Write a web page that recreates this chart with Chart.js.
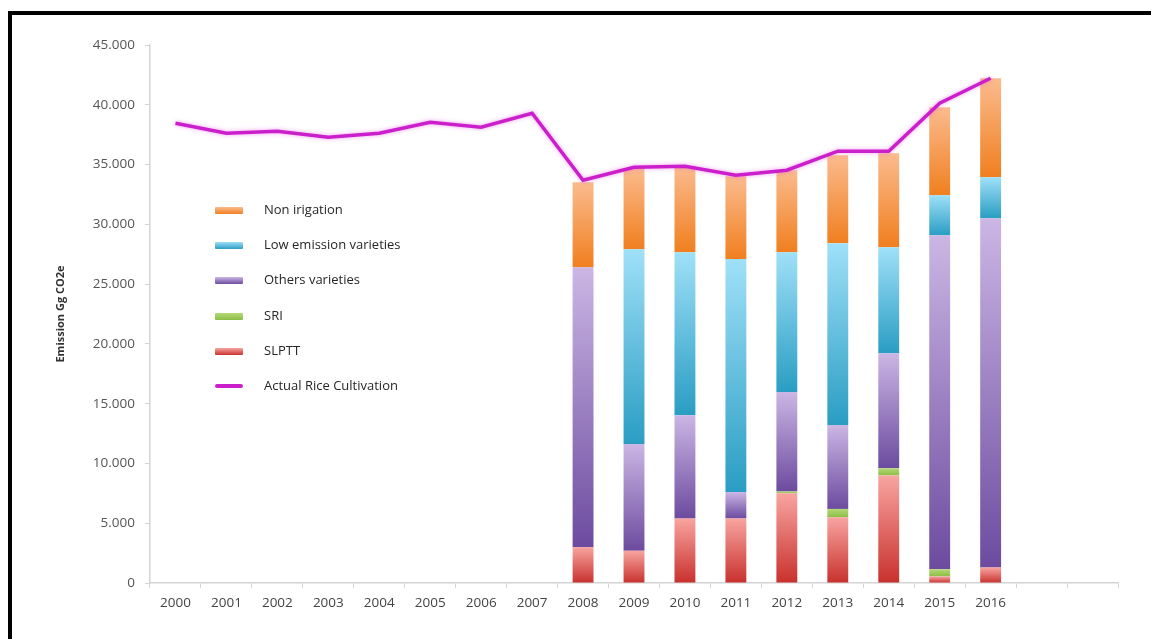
<!DOCTYPE html>
<html>
<head>
<meta charset="utf-8">
<script src="https://cdn.jsdelivr.net/npm/chart.js@4.4.1/dist/chart.umd.min.js"></script>
<style>
  html, body { margin: 0; padding: 0; background: #fff; }
  #wrap { position: relative; width: 1151px; height: 639px; overflow: hidden; font-family: "Open Sans", sans-serif; }
  #c { position: absolute; left: 0; top: 0; }
  #frame { position: absolute; left: 8px; top: 11px; right: -10px; bottom: -10px; border-top: 4px solid #000; border-left: 4px solid #000; pointer-events: none; }
  #legend { position: absolute; left: 215px; top: 192px; }
  .row { position: relative; height: 35.2px; }
  .sw { position: absolute; left: 0; top: 15px; width: 28px; height: 7px; border-radius: 1px; }
  .sw.line { height: 4px; top: 16px; border-radius: 2px; }
  .lab { position: absolute; left: 49px; top: 8px; font-size: 13px; color: #262626; white-space: nowrap; }
</style>
</head>
<body>
<div id="wrap">
  <canvas id="c" width="1151" height="639"></canvas>
  <div id="legend"></div>
  <div id="frame"></div>
</div>
<script>
// ---- data ----
const years = ['2000','2001','2002','2003','2004','2005','2006','2007','2008','2009','2010','2011','2012','2013','2014','2015','2016','',''];
const actualRice = [38460, 37620, 37790, 37290, 37620, 38540, 38120, 39290, 33690, 34780, 34860, 34110, 34530, 36120, 36120, 40130, 42220, null, null];
const slptt      = [null,null,null,null,null,null,null,null, 3000, 2700, 5400, 5400, 7500, 5500, 9000,   550, 1300, null, null];
const sri        = [null,null,null,null,null,null,null,null,    0,    0,    0,    0,  150,  700,  600,   600,    0, null, null];
const others     = [null,null,null,null,null,null,null,null,23420, 8920, 8640, 2210, 8320, 7010, 9620, 27940,29210, null, null];
const lowEmission= [null,null,null,null,null,null,null,null,    0,16300,13630,19480,11700,15210, 8860,  3350, 3430, null, null];
const nonIrig    = [null,null,null,null,null,null,null,null, 7100, 6770, 7190, 6930, 6860, 7360, 7860,  7350, 8280, null, null];
const yTicks = [0, 5000, 10000, 15000, 20000, 25000, 30000, 35000, 40000, 45000];

// ---- styles ----
const palette = {
  slptt:  ['#f8a4a0', '#c8312d'],
  sri:    ['#b4d977', '#8dbd45'],
  others: ['#cbb6e4', '#6c4b9f'],
  low:    ['#9fe0f8', '#2a9dc3'],
  non:    ['#fbbb8e', '#f07f1f']
};
const lineColor = '#cc1fcc';

function fmt(v) {
  return String(v).replace(/\B(?=(\d{3})+(?!\d))/g, '.');
}

function gradFill(colors) {
  return function (ctx) {
    if (ctx.type !== 'data') return colors[1];
    const chart = ctx.chart;
    const ys = chart.scales && chart.scales.y;
    if (!ys || !chart.chartArea) return colors[1];
    const di = ctx.datasetIndex, i = ctx.dataIndex;
    let base = 0;
    for (let d = 0; d < di; d++) {
      const ds = chart.data.datasets[d];
      if (ds.type === 'bar') base += ds.data[i] || 0;
    }
    const v = chart.data.datasets[di].data[i] || 0;
    const yTop = ys.getPixelForValue(base + v);
    const yBot = ys.getPixelForValue(base);
    if (!(yBot - yTop > 0.5)) return colors[1];
    const g = chart.ctx.createLinearGradient(0, yTop, 0, yBot);
    g.addColorStop(0, colors[0]);
    g.addColorStop(1, colors[1]);
    return g;
  };
}

function barDs(label, data, colors) {
  return {
    type: 'bar', label: label, data: data, stack: 'bars', order: 1,
    backgroundColor: gradFill(colors), borderWidth: 0,
    categoryPercentage: 1.0, barPercentage: 0.41,
    _colors: colors
  };
}

const datasets = [
  barDs('SLPTT', slptt, palette.slptt),
  barDs('SRI', sri, palette.sri),
  barDs('Others varieties', others, palette.others),
  barDs('Low emission varieties', lowEmission, palette.low),
  barDs('Non irigation', nonIrig, palette.non),
  {
    type: 'line', label: 'Actual Rice Cultivation', data: actualRice, stack: 'line', order: 0,
    borderColor: lineColor, borderWidth: 3.5, pointRadius: 0, tension: 0, fill: false,
    spanGaps: false, _colors: [lineColor, lineColor]
  }
];

const glow = {
  id: 'glow',
  beforeDatasetDraw(chart, args) {
    if (chart.data.datasets[args.index].type === 'line') {
      chart.ctx.save();
      chart.ctx.shadowColor = 'rgba(230,80,230,0.55)';
      chart.ctx.shadowBlur = 4;
    }
  },
  afterDatasetDraw(chart, args) {
    if (chart.data.datasets[args.index].type === 'line') chart.ctx.restore();
  }
};

const chart = new Chart(document.getElementById('c'), {
  data: { labels: years, datasets: datasets },
  plugins: [glow],
  options: {
    responsive: false,
    animation: false,
    layout: { padding: { left: 54, top: 45, right: 33, bottom: 0 } },
    plugins: { legend: { display: false }, tooltip: { enabled: false } },
    scales: {
      x: {
        stacked: true,
        offset: true,
        grid: { display: true, offset: true, drawOnChartArea: false, drawTicks: true, tickLength: 5, color: '#d4d4d4', lineWidth: 1 },
        border: { display: true, color: '#d4d4d4', width: 1.5 },
        ticks: { font: { family: 'Open Sans', size: 13.5 }, color: '#444', padding: 7, maxRotation: 0, autoSkip: false },
        afterFit(s) { s.height = 56; }
      },
      y: {
        stacked: true,
        min: 0, max: 45000,
        afterBuildTicks(s) { s.ticks = yTicks.map(v => ({ value: v })); },
        grid: { display: true, drawOnChartArea: false, drawTicks: true, tickLength: 5, color: '#d4d4d4' },
        border: { display: true, color: '#d4d4d4', width: 1.5 },
        ticks: { font: { family: 'Open Sans', size: 13.5 }, color: '#555', padding: 10, callback: v => fmt(v) },
        title: { display: true, text: 'Emission Gg CO2e', font: { family: 'Open Sans', size: 11, weight: 'bold' }, color: '#333', padding: { top: 0, bottom: 0 } },
        afterFit(s) { s.width = 96; }
      }
    }
  }
});

// HTML legend built from datasets (reverse stacking order, then line)
const legendOrder = [4, 3, 2, 1, 0, 5];
const leg = document.getElementById('legend');
legendOrder.forEach(idx => {
  const ds = chart.data.datasets[idx];
  const row = document.createElement('div');
  row.className = 'row';
  const sw = document.createElement('div');
  sw.className = 'sw' + (ds.type === 'line' ? ' line' : '');
  sw.style.background = 'linear-gradient(to bottom, ' + ds._colors[0] + ', ' + ds._colors[1] + ')';
  const lab = document.createElement('div');
  lab.className = 'lab';
  lab.textContent = ds.label;
  row.appendChild(sw); row.appendChild(lab);
  leg.appendChild(row);
});
</script>
</body>
</html>
